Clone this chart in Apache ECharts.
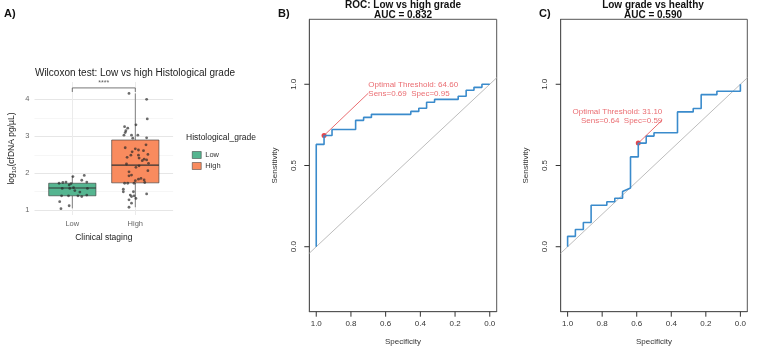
<!DOCTYPE html>
<html>
<head>
<meta charset="utf-8">
<script src="https://cdn.jsdelivr.net/npm/echarts@6/dist/echarts.min.js"></script>
<style>
  html, body { margin: 0; padding: 0; background: #fff; }
  #main { width: 767px; height: 349px; }
</style>
</head>
<body>
<div id="main"></div>
<script>
// ---- data ----
const grades = ['Low', 'High'];
const gradeColors = ['#55b590', '#f98b5e'];

// box stats: [lower whisker, Q1, median, Q3, upper whisker]
const lowBox = [1.05, 1.39, 1.60, 1.73, 1.93];
const highBox = [1.08, 1.74, 2.22, 2.90, 4.16];

// jittered points [x position (1 = Low, 2 = High), log10 cfDNA]
const lowPoints = [[0.82, 1.04], [0.80, 1.23], [0.95, 1.12], [0.83, 1.39], [0.94, 1.39], [1.09, 1.39],
  [1.15, 1.37], [1.23, 1.41], [0.84, 1.59], [0.96, 1.59], [1.02, 1.61], [1.04, 1.53], [1.12, 1.49],
  [1.24, 1.59], [0.79, 1.73], [0.85, 1.75], [0.90, 1.76], [0.95, 1.68], [0.98, 1.72], [1.15, 1.81],
  [1.23, 1.76], [1.19, 1.94], [1.01, 1.91]];
const highPoints = [[1.90, 4.16], [2.18, 4.00], [2.19, 3.47], [2.01, 3.31], [1.83, 3.26], [1.88, 3.22],
  [1.85, 3.15], [1.84, 3.10], [1.82, 3.03], [1.94, 3.03], [2.04, 3.03], [1.96, 2.95], [2.18, 2.96],
  [1.84, 2.69], [2.00, 2.66], [2.05, 2.63], [2.17, 2.77], [2.20, 2.51], [2.05, 2.49], [1.93, 2.49],
  [2.06, 2.41], [2.14, 2.38], [2.18, 2.36], [2.21, 2.27], [1.86, 2.25], [2.01, 2.16], [2.06, 2.20],
  [2.20, 2.07], [1.90, 2.04], [1.94, 1.95], [1.90, 1.93], [2.09, 1.86], [2.05, 1.84], [2.00, 1.80],
  [2.14, 1.82], [2.15, 1.75], [1.83, 1.73], [1.88, 1.73], [1.98, 1.73], [1.81, 1.57], [1.81, 1.50],
  [1.97, 1.50], [2.18, 1.44], [1.92, 1.41], [1.94, 1.37], [1.98, 1.39], [2.01, 1.32], [1.90, 1.28],
  [1.94, 1.19], [1.90, 1.08], [2.11, 2.34], [2.13, 2.61], [1.95, 2.58], [1.87, 2.43]];

const bracketTop = 4.31;
const bracketTip = 4.20;
const pLabel = '****';
const yTicksA = [1, 2, 3, 4];
const yMinorA = [1.5, 2.5, 3.5];

// ROC coordinates [specificity, sensitivity]
const rocB = [[1, 0], [1, 0.630], [0.955, 0.630], [0.955, 0.685], [0.909, 0.685], [0.909, 0.722],
  [0.773, 0.722], [0.773, 0.778], [0.727, 0.778], [0.727, 0.796], [0.682, 0.796], [0.682, 0.815],
  [0.455, 0.815], [0.455, 0.833], [0.409, 0.833], [0.409, 0.852], [0.364, 0.852], [0.364, 0.889],
  [0.318, 0.889], [0.318, 0.907], [0.182, 0.907], [0.182, 0.926], [0.136, 0.926], [0.136, 0.963],
  [0.091, 0.963], [0.091, 0.981], [0.045, 0.981], [0.045, 1], [0, 1]];
const rocC = [[1, 0], [1, 0.064], [0.955, 0.064], [0.955, 0.106], [0.909, 0.106], [0.909, 0.149],
  [0.864, 0.149], [0.864, 0.255], [0.773, 0.255], [0.773, 0.277], [0.727, 0.277], [0.727, 0.298],
  [0.682, 0.298], [0.682, 0.340], [0.636, 0.362], [0.636, 0.553], [0.591, 0.553], [0.591, 0.638],
  [0.545, 0.638], [0.545, 0.681], [0.5, 0.681], [0.5, 0.702], [0.364, 0.702], [0.364, 0.830],
  [0.273, 0.830], [0.273, 0.851], [0.227, 0.851], [0.227, 0.936], [0.136, 0.936], [0.136, 0.957],
  [0, 0.957], [0, 1]];

const bestB = [0.955, 0.685];
const bestC = [0.591, 0.638];
const labelB = [0.70, 0.945];   // where the threshold note sits
const labelC = [0.452, 0.78];
const textB = ['Optimal Threshold: 64.60', 'Sens=0.69  Spec=0.95'];
const textC = ['Optimal Threshold: 31.10', 'Sens=0.64  Spec=0.59'];

const rocTicksX = [0, 0.2, 0.4, 0.6, 0.8, 1.0];
const rocTicksY = [0, 0.5, 1.0];
const specRange = [-0.04, 1.04];
const sensRange = [-0.4, 1.4];

const FONT = 'Liberation Sans, Arial, sans-serif';
const RED = '#e5474d';
const BLUE = '#3a8bcc';

function boxItem(params, api) {
  const x = api.value(0);
  const c = v => api.coord([x, v]);
  const hw = api.size([0.75, 0])[0] / 2;
  const lw = c(api.value(1)), q1 = c(api.value(2)), med = c(api.value(3)),
        q3 = c(api.value(4)), uw = c(api.value(5));
  const stroke = { stroke: '#333', lineWidth: 0.6 };
  return {
    type: 'group',
    children: [
      { type: 'line', shape: { x1: q3[0], y1: q3[1], x2: uw[0], y2: uw[1] }, style: stroke },
      { type: 'line', shape: { x1: q1[0], y1: q1[1], x2: lw[0], y2: lw[1] }, style: stroke },
      { type: 'rect', shape: { x: q3[0] - hw, y: q3[1], width: hw * 2, height: q1[1] - q3[1] },
        style: { fill: api.visual('color'), stroke: '#333', lineWidth: 0.6 } },
      { type: 'line', shape: { x1: med[0] - hw, y1: med[1], x2: med[0] + hw, y2: med[1] },
        style: { stroke: '#333', lineWidth: 1.1 } }
    ]
  };
}

function rocAxes(gridIndex) {
  const x = {
    gridIndex, type: 'value', inverse: true, min: specRange[0], max: specRange[1],
    name: 'Specificity', nameLocation: 'middle', nameGap: 26,
    nameTextStyle: { fontSize: 8, color: '#333', fontFamily: FONT },
    axisLine: { show: true, onZero: false, lineStyle: { color: '#555', width: 1 } },
    axisTick: { show: false },
    axisLabel: { customValues: rocTicksX, formatter: v => v.toFixed(1), fontSize: 8, color: '#333',
      margin: 8, fontFamily: FONT },
    splitLine: { show: false }
  };
  const y = {
    gridIndex, type: 'value', min: sensRange[0], max: sensRange[1],
    name: 'Sensitivity', nameLocation: 'middle', nameGap: 31,
    nameTextStyle: { fontSize: 8, color: '#333', fontFamily: FONT },
    axisLine: { show: true, onZero: false, lineStyle: { color: '#555', width: 1 } },
    axisTick: { show: false },
    axisLabel: { customValues: rocTicksY, rotate: 90, formatter: v => v.toFixed(1), fontSize: 8,
      color: '#333', margin: 12, fontFamily: FONT },
    splitLine: { show: false }
  };
  return [x, y];
}

function rocSeries(idx, roc, best, labelAt, lines, align) {
  return [
    { type: 'line', xAxisIndex: idx, yAxisIndex: idx, silent: true, symbol: 'none',
      data: [[specRange[1], 1 - specRange[1]], [specRange[0], 1 - specRange[0]]],
      lineStyle: { color: '#bdbdbd', width: 1 } },
    { type: 'line', xAxisIndex: idx, yAxisIndex: idx, silent: true, symbol: 'none',
      data: roc, lineStyle: { color: BLUE, width: 1.6 } },
    { type: 'line', xAxisIndex: idx, yAxisIndex: idx, silent: true, symbol: 'none',
      data: [best, labelAt], lineStyle: { color: RED, width: 0.8 } },
    { type: 'scatter', xAxisIndex: idx, yAxisIndex: idx, silent: true, symbolSize: 5,
      itemStyle: { color: '#e0161d' }, data: [best] },
    { type: 'scatter', xAxisIndex: idx, yAxisIndex: idx, silent: true, symbolSize: 0,
      data: [labelAt],
      label: { show: true, position: align === 'left' ? 'right' : 'left', distance: 0,
        align: align, verticalAlign: 'bottom', offset: [0, 5],
        formatter: lines.join('\n'), color: RED, fontSize: 8, lineHeight: 9, fontFamily: FONT } }
  ];
}

const [xB, yB] = rocAxes(1);
const [xC, yC] = rocAxes(2);

const option = {
  animation: false,
  backgroundColor: '#fff',
  textStyle: { fontFamily: FONT },
  grid: [
    { left: 34.5, top: 82, width: 138.6, height: 133, containLabel: false, outerBoundsMode: 'none' },
    { left: 309.3, top: 19.3, width: 187.4, height: 292.4, show: true, borderColor: '#555',
      borderWidth: 1, backgroundColor: 'transparent', containLabel: false, outerBoundsMode: 'none' },
    { left: 560.7, top: 19.3, width: 186.6, height: 292.4, show: true, borderColor: '#555',
      borderWidth: 1, backgroundColor: 'transparent', containLabel: false, outerBoundsMode: 'none' }
  ],
  legend: {
    data: grades, orient: 'vertical', left: 187, top: 146, itemWidth: 9, itemHeight: 7, itemGap: 3,
    icon: 'rect', selectedMode: false,
    itemStyle: { borderColor: '#333', borderWidth: 0.5 },
    textStyle: { fontSize: 7.5, color: '#333', fontFamily: FONT, padding: [0, 0, 0, -1] }
  },
  xAxis: [
    { gridIndex: 0, type: 'value', min: 0.4, max: 2.6,
      name: 'Clinical staging', nameLocation: 'middle', nameGap: 18,
      nameTextStyle: { fontSize: 8.5, color: '#222', fontFamily: FONT },
      axisLine: { show: false, onZero: false },
      axisTick: { show: false, customValues: [1, 2] },
      axisLabel: { customValues: [1, 2], formatter: v => grades[Math.round(v) - 1], fontSize: 7.5,
        color: '#666', margin: 5, fontFamily: FONT },
      splitLine: { show: true, lineStyle: { color: '#ebebeb', width: 1 } } },
    xB, xC
  ],
  yAxis: [
    { gridIndex: 0, type: 'value', min: 0.87, max: 4.47,
      name: 'log{s|10}(cfDNA pg/µL)', nameLocation: 'middle', nameGap: 17,
      nameTextStyle: { fontSize: 8.5, color: '#222', fontFamily: FONT,
        rich: { s: { fontSize: 6, color: '#222', padding: [5, 0, 0, 0], fontFamily: FONT } } },
      axisLine: { show: false, onZero: false },
      axisTick: { show: false, customValues: yTicksA },
      axisLabel: { customValues: yTicksA, fontSize: 7.5, color: '#666', margin: 5, fontFamily: FONT },
      splitLine: { show: true, lineStyle: { color: '#e6e6e6', width: 1 } } },
    yB, yC,
    { gridIndex: 0, type: 'value', min: 0.87, max: 4.47,
      axisLine: { show: false, onZero: false }, axisLabel: { show: false },
      axisTick: { show: false, customValues: yMinorA },
      splitLine: { show: true, lineStyle: { color: '#f2f2f2', width: 0.7 } } }
  ],
  graphic: [
    { type: 'text', left: 4, top: 8, style: { text: 'A)', font: 'bold 11px ' + FONT, fill: '#111' } },
    { type: 'text', left: 278, top: 8, style: { text: 'B)', font: 'bold 11px ' + FONT, fill: '#111' } },
    { type: 'text', left: 539, top: 8, style: { text: 'C)', font: 'bold 11px ' + FONT, fill: '#111' } },
    { type: 'text', x: 135, y: 73.5, style: { text: 'Wilcoxon test: Low vs high Histological grade',
      font: '10px ' + FONT, fill: '#222', align: 'center', verticalAlign: 'middle' } },
    { type: 'text', x: 186, y: 137.5, style: { text: 'Histological_grade',
      font: '8.5px ' + FONT, fill: '#222', align: 'left', verticalAlign: 'middle' } },
    { type: 'text', x: 403, y: 5.5, style: { text: 'ROC: Low vs high grade',
      font: 'bold 10px ' + FONT, fill: '#111', align: 'center', verticalAlign: 'middle' } },
    { type: 'text', x: 403, y: 15.5, style: { text: 'AUC = 0.832',
      font: 'bold 10px ' + FONT, fill: '#111', align: 'center', verticalAlign: 'middle' } },
    { type: 'text', x: 653, y: 5.5, style: { text: 'Low grade vs healthy',
      font: 'bold 10px ' + FONT, fill: '#111', align: 'center', verticalAlign: 'middle' } },
    { type: 'text', x: 653, y: 15.5, style: { text: 'AUC = 0.590',
      font: 'bold 10px ' + FONT, fill: '#111', align: 'center', verticalAlign: 'middle' } }
  ],
  series: [
    { name: 'Low', type: 'custom', xAxisIndex: 0, yAxisIndex: 0, renderItem: boxItem,
      itemStyle: { color: gradeColors[0] }, encode: { x: 0, y: [1, 2, 3, 4, 5] },
      data: [[1].concat(lowBox)] },
    { name: 'High', type: 'custom', xAxisIndex: 0, yAxisIndex: 0, renderItem: boxItem,
      itemStyle: { color: gradeColors[1] }, encode: { x: 0, y: [1, 2, 3, 4, 5] },
      data: [[2].concat(highBox)] },
    { type: 'scatter', xAxisIndex: 0, yAxisIndex: 0, silent: true, symbolSize: 2.8,
      itemStyle: { color: 'rgba(40,40,40,0.85)' }, data: lowPoints.concat(highPoints) },
    { type: 'line', xAxisIndex: 0, yAxisIndex: 0, silent: true, symbol: 'none',
      data: [[1, bracketTip], [1, bracketTop], [2, bracketTop], [2, bracketTip]],
      lineStyle: { color: '#555', width: 0.8 } },
    { type: 'scatter', xAxisIndex: 0, yAxisIndex: 0, silent: true, symbolSize: 0,
      data: [[1.5, bracketTop]],
      label: { show: true, position: 'top', distance: 1, formatter: pLabel, fontSize: 7, color: '#333' } }
  ].concat(rocSeries(1, rocB, bestB, labelB, textB, 'left'))
   .concat(rocSeries(2, rocC, bestC, labelC, textC, 'right'))
};

const myChart = echarts.init(document.getElementById('main'));
myChart.setOption(option);

// R-style outward tick marks, positioned by converting tick values through each grid's axes
const tickMarks = [];
[1, 2].forEach(g => {
  rocTicksX.forEach(v => {
    const p = myChart.convertToPixel({ gridIndex: g }, [v, sensRange[0]]);
    tickMarks.push({ type: 'line', z: 100, shape: { x1: p[0], y1: p[1], x2: p[0], y2: p[1] + 5 },
      style: { stroke: '#333', lineWidth: 1 } });
  });
  rocTicksY.forEach(v => {
    const p = myChart.convertToPixel({ gridIndex: g }, [specRange[1], v]);
    tickMarks.push({ type: 'line', z: 100, shape: { x1: p[0], y1: p[1], x2: p[0] - 5, y2: p[1] },
      style: { stroke: '#333', lineWidth: 1 } });
  });
});
myChart.setOption({ graphic: option.graphic.concat(tickMarks) });
</script>
</body>
</html>
